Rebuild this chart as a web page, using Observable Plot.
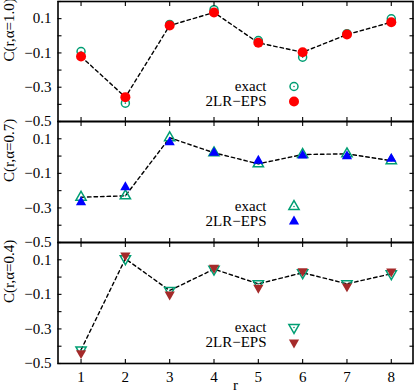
<!DOCTYPE html>
<html>
<head>
<meta charset="utf-8">
<script src="https://cdn.jsdelivr.net/npm/d3@7"></script>
<script src="https://cdn.jsdelivr.net/npm/@observablehq/plot@0.6"></script>
<style>
  html, body { margin: 0; padding: 0; background: white; }
  #chart { position: relative; width: 415px; height: 392px; background: white; overflow: hidden; }
</style>
</head>
<body>
<div id="chart"></div>
<script>
// ---- data ----
const rValues = [1, 2, 3, 4, 5, 6, 7, 8];
const exact10 = [-0.092, -0.393, 0.066, 0.152, -0.028, -0.125, 0.012, 0.099];
const eps10   = [-0.121, -0.358, 0.060, 0.136, -0.041, -0.096, 0.007, 0.079];
const exact07 = [-0.238, -0.230, 0.106, 0.019, -0.045, 0.009, 0.013, -0.027];
const eps07   = [-0.267, -0.180, 0.079, 0.019, -0.027, 0.003, -0.001, -0.016];
const exact04 = [-0.421, 0.106, -0.078, 0.046, -0.039, 0.025, -0.039, 0.019];
const eps04   = [-0.440, 0.125, -0.101, 0.054, -0.062, 0.034, -0.054, 0.032];
const yTicks = [-0.5, -0.4, -0.3, -0.2, -0.1, 0, 0.1, 0.2];
const yTickLabels = [-0.5, -0.3, -0.1, 0.1];
const xTicks = [1, 2, 3, 4, 5, 6, 7, 8];
const panelLabels = ["C(r,α=1.0)", "C(r,α=0.7)", "C(r,α=0.4)"];
const seriesNames = ["exact", "2LR\u2212EPS"];
const xLabel = "r";

// ---- layout / style ----
const W = 415;
const mL = 57.5, mR = 2.5, pad = 4;
const green = "#009e73";
const legendY = [85, 100];
const panels = [
  {label: panelLabels[0], exact: exact10, eps: eps10, line: "eps",   symbol: "circle",   rotate: 0,   epsColor: "#ff0000", top: 1,   h: 120, rOpen: 4,   rFill: 5},
  {label: panelLabels[1], exact: exact07, eps: eps07, line: "exact", symbol: "triangle", rotate: 0,   epsColor: "#0000ff", top: 121, h: 121, rOpen: 3.8, rFill: 3.8},
  {label: panelLabels[2], exact: exact04, eps: eps04, line: "exact", symbol: "triangle", rotate: 180, epsColor: "#a52a2a", top: 242, h: 121, rOpen: 3.8, rFill: 3.8}
];
const fmt = d => d.toFixed(1).replace("-", "\u2212");
const chart = document.getElementById("chart");

panels.forEach((p, i) => {
  const last = i === panels.length - 1;
  const data = rValues.map((r, j) => ({r, exact: p.exact[j], eps: p.eps[j]}));
  const mB = last ? 29 : pad;
  const marks = [
    Plot.line(data, {x: "r", y: p.line, stroke: "black", strokeWidth: 1.4, strokeDasharray: "3.5,3"}),
    Plot.dot(data, {x: "r", y: "exact", symbol: p.symbol, r: p.rOpen, stroke: green, fill: "none", strokeWidth: 1.5, rotate: p.rotate}),
    Plot.dot(data, {x: "r", y: "exact", symbol: "circle", r: 0.8, fill: green}),
    Plot.dot(data, {x: "r", y: "eps", symbol: p.symbol, r: p.rFill, fill: p.epsColor, stroke: "none", rotate: p.rotate}),
    // legend
    Plot.text([seriesNames[0]], {text: d => d, frameAnchor: "top-left", dx: 208.5, dy: legendY[0], textAnchor: "end", lineAnchor: "middle"}),
    Plot.text([seriesNames[1]], {text: d => d, frameAnchor: "top-left", dx: 208.5, dy: legendY[1], textAnchor: "end", lineAnchor: "middle"}),
    Plot.dot([seriesNames[0]], {frameAnchor: "top-left", dx: 236, dy: legendY[0], symbol: p.symbol, r: p.rOpen, stroke: green, fill: "none", strokeWidth: 1.5, rotate: p.rotate}),
    Plot.dot([seriesNames[0]], {frameAnchor: "top-left", dx: 236, dy: legendY[0], symbol: "circle", r: 0.8, fill: green}),
    Plot.dot([seriesNames[1]], {frameAnchor: "top-left", dx: 236, dy: legendY[1], symbol: p.symbol, r: p.rFill, fill: p.epsColor, stroke: "none", rotate: p.rotate}),
    // y label
    Plot.text([p.label], {text: d => d, frameAnchor: "left", dx: -49, rotate: -90}),
    // inward ticks
    Plot.axisY({anchor: "left", ticks: yTicks, tickSize: -4, fill: "none", strokeWidth: 1.1, label: null}),
    Plot.axisY({anchor: "right", ticks: yTicks, tickSize: -4, fill: "none", strokeWidth: 1.1, label: null}),
    Plot.axisX({anchor: "top", ticks: xTicks, tickSize: -4, fill: "none", strokeWidth: 1.1, label: null}),
    Plot.axisX({anchor: "bottom", ticks: xTicks, tickSize: -4, fill: "none", strokeWidth: 1.1, label: null}),
    // tick labels
    Plot.axisY({anchor: "left", ticks: yTickLabels, tickSize: 0, tickPadding: 6.5, tickFormat: fmt, label: null}),
    Plot.frame({stroke: "black", strokeWidth: 1.6})
  ];
  if (last) {
    marks.push(Plot.axisX({anchor: "bottom", ticks: xTicks, tickSize: 0, tickPadding: 8, tickFormat: d => String(d), label: null}));
    marks.push(Plot.text([xLabel], {text: d => d, frameAnchor: "bottom", dy: 22, lineAnchor: "middle"}));
  }
  const svg = Plot.plot({
    width: W,
    height: pad + p.h + mB,
    marginLeft: mL,
    marginRight: mR,
    marginTop: pad,
    marginBottom: mB,
    x: {domain: [0.48, 8.49]},
    y: {domain: [-0.5, 0.2]},
    style: {
      position: "absolute", left: "0px", top: (p.top - pad) + "px",
      background: "transparent", overflow: "visible",
      fontFamily: "'Liberation Serif', 'DejaVu Serif', serif", fontSize: "15px", color: "black"
    },
    marks
  });
  chart.appendChild(svg);
});
</script>
</body>
</html>
